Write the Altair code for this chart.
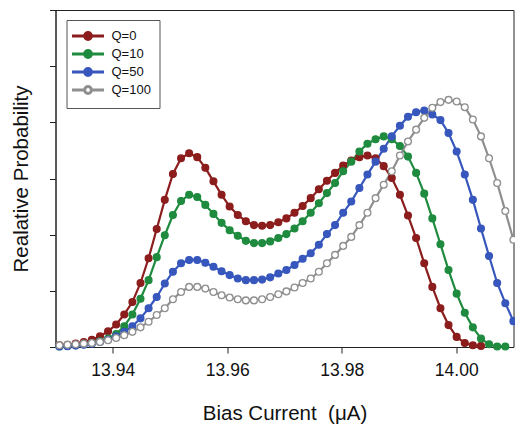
import altair as alt
import pandas as pd

x_vals = [13.93069, 13.93210, 13.93352, 13.93494, 13.93635, 13.93777, 13.93918, 13.94060,
          13.94201, 13.94343, 13.94485, 13.94626, 13.94768, 13.94909, 13.95051, 13.95193,
          13.95334, 13.95476, 13.95617, 13.95759, 13.95901, 13.96042, 13.96184, 13.96325,
          13.96467, 13.96609, 13.96750, 13.96892, 13.97033, 13.97175, 13.97317, 13.97458,
          13.97600, 13.97741, 13.97883, 13.98025, 13.98166, 13.98308, 13.98449, 13.98591,
          13.98733, 13.98874, 13.99016, 13.99157, 13.99299, 13.99441, 13.99582, 13.99724,
          13.99865, 14.00007, 14.00149, 14.00290, 14.00432, 14.00573, 14.00715, 14.00857,
          14.00998]

series = ["Q=0", "Q=10", "Q=50", "Q=100"]

q0 = [0.03, 0.04, 0.06, 0.09, 0.13, 0.19, 0.28, 0.40, 0.58, 0.80, 1.14, 1.58, 2.10, 2.62,
      3.08, 3.36, 3.45, 3.38, 3.19, 2.95, 2.71, 2.50, 2.35, 2.24, 2.17, 2.16, 2.17, 2.22,
      2.29, 2.39, 2.51, 2.65, 2.81, 2.96, 3.10, 3.23, 3.32, 3.38, 3.41, 3.36, 3.22, 3.01,
      2.71, 2.34, 1.94, 1.49, 1.07, 0.69, 0.39, 0.18, 0.07, 0.03, 0.02]

q10 = [0.01, 0.02, 0.03, 0.05, 0.07, 0.10, 0.15, 0.23, 0.37, 0.58, 0.86, 1.19, 1.60, 1.99,
       2.35, 2.60, 2.71, 2.67, 2.53, 2.37, 2.21, 2.08, 1.98, 1.89, 1.85, 1.85, 1.88, 1.94,
       2.01, 2.11, 2.24, 2.39, 2.56, 2.74, 2.92, 3.13, 3.30, 3.48, 3.62, 3.70, 3.75, 3.70,
       3.58, 3.39, 3.10, 2.73, 2.29, 1.83, 1.37, 0.95, 0.61, 0.35, 0.15, 0.05, 0.01, 0.01]

q50 = [0.01, 0.015, 0.025, 0.04, 0.06, 0.09, 0.13, 0.19, 0.27, 0.37, 0.51, 0.69, 0.89, 1.13,
       1.34, 1.49, 1.55, 1.55, 1.50, 1.43, 1.35, 1.28, 1.22, 1.19, 1.19, 1.20, 1.24, 1.31,
       1.37, 1.46, 1.57, 1.67, 1.82, 2.01, 2.17, 2.39, 2.59, 2.83, 3.07, 3.30, 3.53, 3.75,
       3.94, 4.10, 4.18, 4.21, 4.14, 4.04, 3.81, 3.48, 3.07, 2.62, 2.11, 1.62, 1.14, 0.78,
       0.46]

q100 = [0.03, 0.04, 0.05, 0.06, 0.07, 0.09, 0.12, 0.16, 0.21, 0.27, 0.35, 0.45, 0.57, 0.69,
        0.85, 0.98, 1.07, 1.07, 1.04, 0.98, 0.92, 0.88, 0.85, 0.83, 0.83, 0.85, 0.89, 0.94,
        0.99, 1.06, 1.14, 1.22, 1.34, 1.49, 1.64, 1.80, 1.96, 2.17, 2.39, 2.65, 2.89, 3.13,
        3.41, 3.66, 3.87, 4.08, 4.26, 4.36, 4.40, 4.37, 4.27, 4.05, 3.75, 3.36, 2.92, 2.42,
        1.91]

x_ticks = [13.94, 13.96, 13.98, 14.00]
y_ticks = [0, 1, 2, 3, 4, 5, 6]

stroke_colors = ["#8c1d1d", "#1f8b3f", "#3757bd", "#8f8f8f"]
fill_colors = ["#8c1d1d", "#1f8b3f", "#3757bd", "#ffffff"]

rows = []
for k, (name, vals) in enumerate(zip(series, [q0, q10, q50, q100])):
    for xv, yv in zip(x_vals, vals):
        rows.append({"x": xv, "y": yv, "series": name, "k": k})
df = pd.DataFrame(rows)

FONT = "Liberation Sans"

x_enc = alt.X("x:Q",
              scale=alt.Scale(domain=[13.93, 14.01], nice=False, zero=False),
              axis=alt.Axis(values=x_ticks, format=".2f",
                            title="Bias Current\u00a0\u00a0(\u03bcA)",
                            grid=False, labelPadding=8, titlePadding=25))
y_enc = alt.Y("y:Q",
              scale=alt.Scale(domain=[0, 6], nice=False, zero=True),
              axis=alt.Axis(values=y_ticks, labels=False, title="Realative Probability",
                            grid=False, titlePadding=18))

legend_path = ("M-1.62,0L0.33,0M1.37,0L3.31,0"
               "M0.33,0A0.52,0.52,0,1,1,1.37,0A0.52,0.52,0,1,1,0.33,0Z")

stroke_enc = alt.Stroke("series:N", sort=series,
                        scale=alt.Scale(domain=series, range=stroke_colors),
                        legend=alt.Legend(title=None))
fill_enc = alt.Fill("series:N", sort=series,
                    scale=alt.Scale(domain=series, range=fill_colors),
                    legend=alt.Legend(title=None))

lines = alt.Chart(df).mark_line(strokeWidth=2.2).encode(
    x=x_enc, y=y_enc, stroke=stroke_enc, detail="k:O", order="x:Q"
)
points = alt.Chart(df).mark_point(size=46, opacity=1, strokeWidth=1.3, shape="circle").encode(
    x=x_enc, y=y_enc, stroke=stroke_enc, fill=fill_enc, order="k:O"
)

chart = alt.layer(lines, points).properties(
    width=458, height=337,
    autosize=alt.AutoSizeParams(type="none"),
    padding={"left": 47.5, "top": 2, "right": 1, "bottom": 80},
).configure_view(
    stroke="#222", strokeWidth=1
).configure_axis(
    labelFont=FONT, titleFont=FONT, labelFontSize=17.5, titleFontSize=20.5,
    titleFontWeight="normal", labelColor="#111", titleColor="#111",
    domainColor="#222", tickColor="#222", tickSize=6, domainWidth=1
).configure_legend(
    orient="none", legendX=11, legendY=10,
    symbolType=legend_path, symbolSize=169, symbolStrokeWidth=3,
    labelFont=FONT, labelFontSize=13, labelColor="#111", labelOffset=21,
    padding=8, rowPadding=-3, strokeColor="#555", fillColor="#ffffff",
    cornerRadius=0
)

chart.save("out.html", embed_options={"renderer": "svg", "actions": False})
